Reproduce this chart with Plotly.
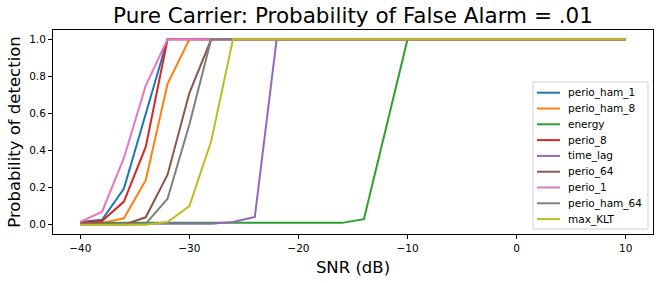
import plotly.graph_objects as go

snr = list(range(-40, 12, 2))

perio_ham_1 = [0.015, 0.027, 0.195, 0.60] + [1.0] * 22
perio_ham_8 = [0.01, 0.01, 0.035, 0.24, 0.76] + [1.0] * 21
energy = [0.01] * 13 + [0.03, 0.51] + [1.0] * 11
perio_8 = [0.01, 0.02, 0.125, 0.42] + [1.0] * 22
time_lag = [0.005] * 6 + [0.005, 0.015, 0.042] + [1.0] * 17
perio_64 = [0.005, 0.005, 0.0, 0.04, 0.27, 0.71] + [1.0] * 20
perio_1 = [0.015, 0.07, 0.36, 0.75] + [1.0] * 22
perio_ham_64 = [0.0, 0.0, 0.0, 0.005, 0.14, 0.54] + [1.0] * 20
max_KLT = [0.0, 0.0, 0.0, 0.0, 0.015, 0.10, 0.45] + [1.0] * 19

series = [
    ("perio_ham_1", perio_ham_1, "#1f77b4"),
    ("perio_ham_8", perio_ham_8, "#ff7f0e"),
    ("energy", energy, "#2ca02c"),
    ("perio_8", perio_8, "#d62728"),
    ("time_lag", time_lag, "#9467bd"),
    ("perio_64", perio_64, "#8c564b"),
    ("perio_1", perio_1, "#e377c2"),
    ("perio_ham_64", perio_ham_64, "#7f7f7f"),
    ("max_KLT", max_KLT, "#bcbd22"),
]

x_ticks = [-40, -30, -20, -10, 0, 10]
y_ticks = [0.0, 0.2, 0.4, 0.6, 0.8, 1.0]

W, H = 664, 283
ML, MR, MT, MB = 53, 11, 30, 49
PW, PH = W - ML - MR, H - MT - MB


def px_x(px):
    return (px - ML) / PW


def px_y(py):
    return (H - MB - py) / PH


fig = go.Figure()
for name, vals, color in series:
    fig.add_trace(go.Scatter(x=snr, y=vals, mode="lines", name=name,
                             line=dict(color=color, width=2), showlegend=False))

font = "DejaVu Sans"

# custom legend (matplotlib-like compact spacing)
shapes = [dict(type="rect", xref="paper", yref="paper",
               x0=px_x(533), x1=px_x(648), y0=px_y(229), y1=px_y(82),
               line=dict(color="#d0d0d0", width=1), fillcolor="rgba(255,255,255,0.8)",
               layer="above")]
annotations = []
for i, (name, vals, color) in enumerate(series):
    yy = 92.7 + i * 15.8
    shapes.append(dict(type="line", xref="paper", yref="paper",
                       x0=px_x(537), x1=px_x(560), y0=px_y(yy), y1=px_y(yy),
                       line=dict(color=color, width=2), layer="above"))
    annotations.append(dict(text=name, xref="paper", yref="paper",
                            x=px_x(566), y=px_y(yy), xanchor="left", yanchor="middle",
                            showarrow=False, font=dict(size=10.5, family=font, color="black")))

fig.update_layout(
    width=W, height=H,
    margin=dict(l=ML, r=MR, t=MT, b=MB),
    paper_bgcolor="white", plot_bgcolor="white",
    font=dict(family=font, color="black"),
    title=dict(text="Pure Carrier: Probability of False Alarm = .01",
               font=dict(size=21.5, family=font, color="black"),
               x=0.5, xanchor="center", xref="paper",
               y=1 - 15 / 283, yanchor="middle", yref="container"),
    showlegend=False,
    shapes=shapes,
    annotations=annotations,
)
fig.update_xaxes(range=[-42.5, 12.5], tickvals=x_ticks, ticks="outside",
                 ticklen=4, tickcolor="black", showgrid=False, zeroline=False,
                 showline=True, linecolor="black", linewidth=1, mirror=True,
                 automargin=False,
                 tickfont=dict(size=10.5, family=font),
                 title=dict(text="SNR (dB)", font=dict(size=16.5, family=font), standoff=8))
fig.update_yaxes(range=[-0.05, 1.05], tickvals=y_ticks, tickformat=".1f",
                 ticks="outside", ticklen=4, tickcolor="black", showgrid=False,
                 zeroline=False, showline=True, linecolor="black", linewidth=1,
                 mirror=True, automargin=False, tickfont=dict(size=10.5, family=font),
                 title=dict(text="Probability of detection",
                            font=dict(size=16.5, family=font), standoff=4))

fig.write_html("out.html",
               config={"displayModeBar": False},
               post_script="document.body.style.margin='0';document.body.style.overflow='hidden';")
